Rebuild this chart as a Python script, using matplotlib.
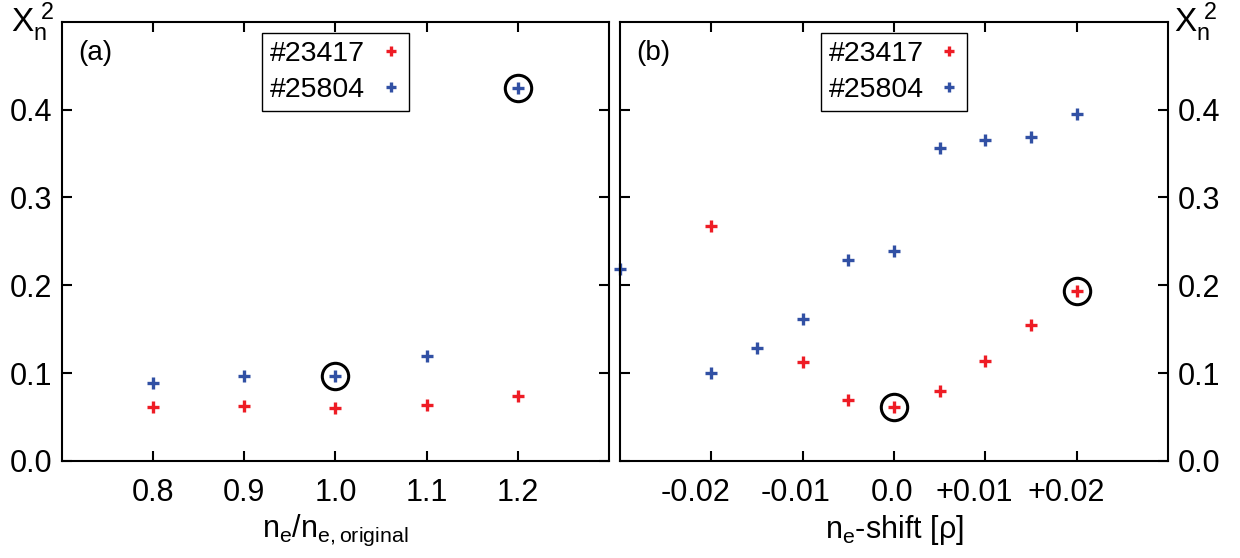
import numpy as np
import matplotlib
matplotlib.use('Agg')
import matplotlib.pyplot as plt
from matplotlib.transforms import ScaledTranslation

plt.rcParams['font.family'] = ['Liberation Sans', 'DejaVu Sans']
plt.rcParams['mathtext.fontset'] = 'custom'
plt.rcParams['mathtext.rm'] = 'Liberation Sans'
plt.rcParams['mathtext.it'] = 'Liberation Sans'

# 数据 (a)
ne_ratio = [0.8, 0.9, 1.0, 1.1, 1.2]
a_23417 = [0.061, 0.062, 0.060, 0.064, 0.074]
a_25804 = [0.089, 0.097, 0.097, 0.120, 0.425]
a_circ_x = [1.0, 1.2]
a_circ_y = [0.097, 0.425]

# 数据 (b)
shift_red = [-0.02, -0.01, -0.005, 0.0, 0.005, 0.01, 0.015, 0.02]
b_23417 = [0.268, 0.113, 0.069, 0.061, 0.080, 0.114, 0.155, 0.194]
shift_blue = [-0.03, -0.02, -0.015, -0.01, -0.005, 0.0, 0.005, 0.01, 0.015, 0.02]
b_25804 = [0.218, 0.100, 0.129, 0.162, 0.229, 0.239, 0.356, 0.365, 0.369, 0.395]
b_circ_x = [0.0, 0.02]
b_circ_y = [0.061, 0.194]

a_xticks = [0.8, 0.9, 1.0, 1.1, 1.2]
a_xlabels = ['0.8', '0.9', '1.0', '1.1', '1.2']
b_xticks = [-0.02, -0.01, 0.0, 0.01, 0.02]
b_xlabels = ['-0.02', '-0.01', '0.0', '+0.01', '+0.02']
yticks = [0.0, 0.1, 0.2, 0.3, 0.4]
ylabels = ['0.0', '0.1', '0.2', '0.3', '0.4']

red = '#ee1c25'
blue = '#3150a4'

fig = plt.figure(figsize=(12.4, 5.58), dpi=100)
ax1 = fig.add_axes([0.050, 0.174, 0.441, 0.787])
ax2 = fig.add_axes([0.500, 0.174, 0.442, 0.787])

def style(ax, xticks, xlabels, left):
    for s in ax.spines.values():
        s.set_linewidth(1.5)
    ax.set_ylim(0, 0.5)
    ax.set_xticks(xticks)
    ax.set_xticklabels(xlabels)
    ax.set_yticks(yticks)
    ax.set_yticklabels(ylabels)
    ax.tick_params(direction='in', length=7.5, width=1.5, top=True, right=True,
                   labelsize=22)
    ax.tick_params(axis='x', pad=12)
    ax.tick_params(axis='y', pad=7)
    if not left:
        ax.tick_params(labelleft=False, labelright=True)

mk = dict(ls='none', marker='+', ms=8.5, mew=2.4)
ck = dict(ls='none', marker='o', ms=19, mfc='none', mec='black', mew=2.2)

# (a)
ax1.plot(ne_ratio, a_23417, color=red, label='#23417', **mk)
ax1.plot(ne_ratio, a_25804, color=blue, label='#25804', **mk)
ax1.plot(a_circ_x, a_circ_y, **ck)
ax1.set_xlim(0.7, 1.3)
style(ax1, a_xticks, a_xlabels, True)
ax1.set_xlabel(r'n$_\mathrm{e}$/n$_\mathrm{e,original}$', fontsize=22, labelpad=4)
ax1.text(0.03, 0.93, '(a)', transform=ax1.transAxes, fontsize=20, va='center')
ax1.text(-0.015, 1.0, r'Χ$_\mathrm{n}^{\ 2}$', transform=ax1.transAxes,
         fontsize=24, ha='right', va='center')

# (b)
ax2.plot(shift_red, b_23417, color=red, label='#23417', clip_on=False, **mk)
ax2.plot(shift_blue, b_25804, color=blue, label='#25804', clip_on=False, **mk)
ax2.plot(b_circ_x, b_circ_y, **ck)
ax2.set_xlim(-0.03, 0.03)
style(ax2, b_xticks, b_xlabels, False)
ax2.set_xlabel(r'n$_\mathrm{e}$-shift [ρ]', fontsize=22, labelpad=4)
ax2.text(0.03, 0.93, '(b)', transform=ax2.transAxes, fontsize=20, va='center')
ax2.text(1.01, 1.0, r'Χ$_\mathrm{n}^{\ 2}$', transform=ax2.transAxes,
         fontsize=24, ha='left', va='center')

# 右图 x 刻度标签略向左偏
shifts = [-16, -7, -2, -11, -11]
for lab, dx in zip(ax2.get_xticklabels(), shifts):
    lab.set_transform(lab.get_transform() + ScaledTranslation(dx / 100, 0, fig.dpi_scale_trans))

for ax in (ax1, ax2):
    leg = ax.legend(loc='upper center', bbox_to_anchor=(0.5, 0.975),
                    markerfirst=False, fontsize=20.5, handlelength=0.7,
                    handletextpad=0.55, labelspacing=0.35, borderpad=0.28,
                    borderaxespad=0.0, fancybox=False, framealpha=1,
                    edgecolor='black', markerscale=0.9)
    leg.get_frame().set_linewidth(1.0)

plt.savefig('out.png', dpi=100)
